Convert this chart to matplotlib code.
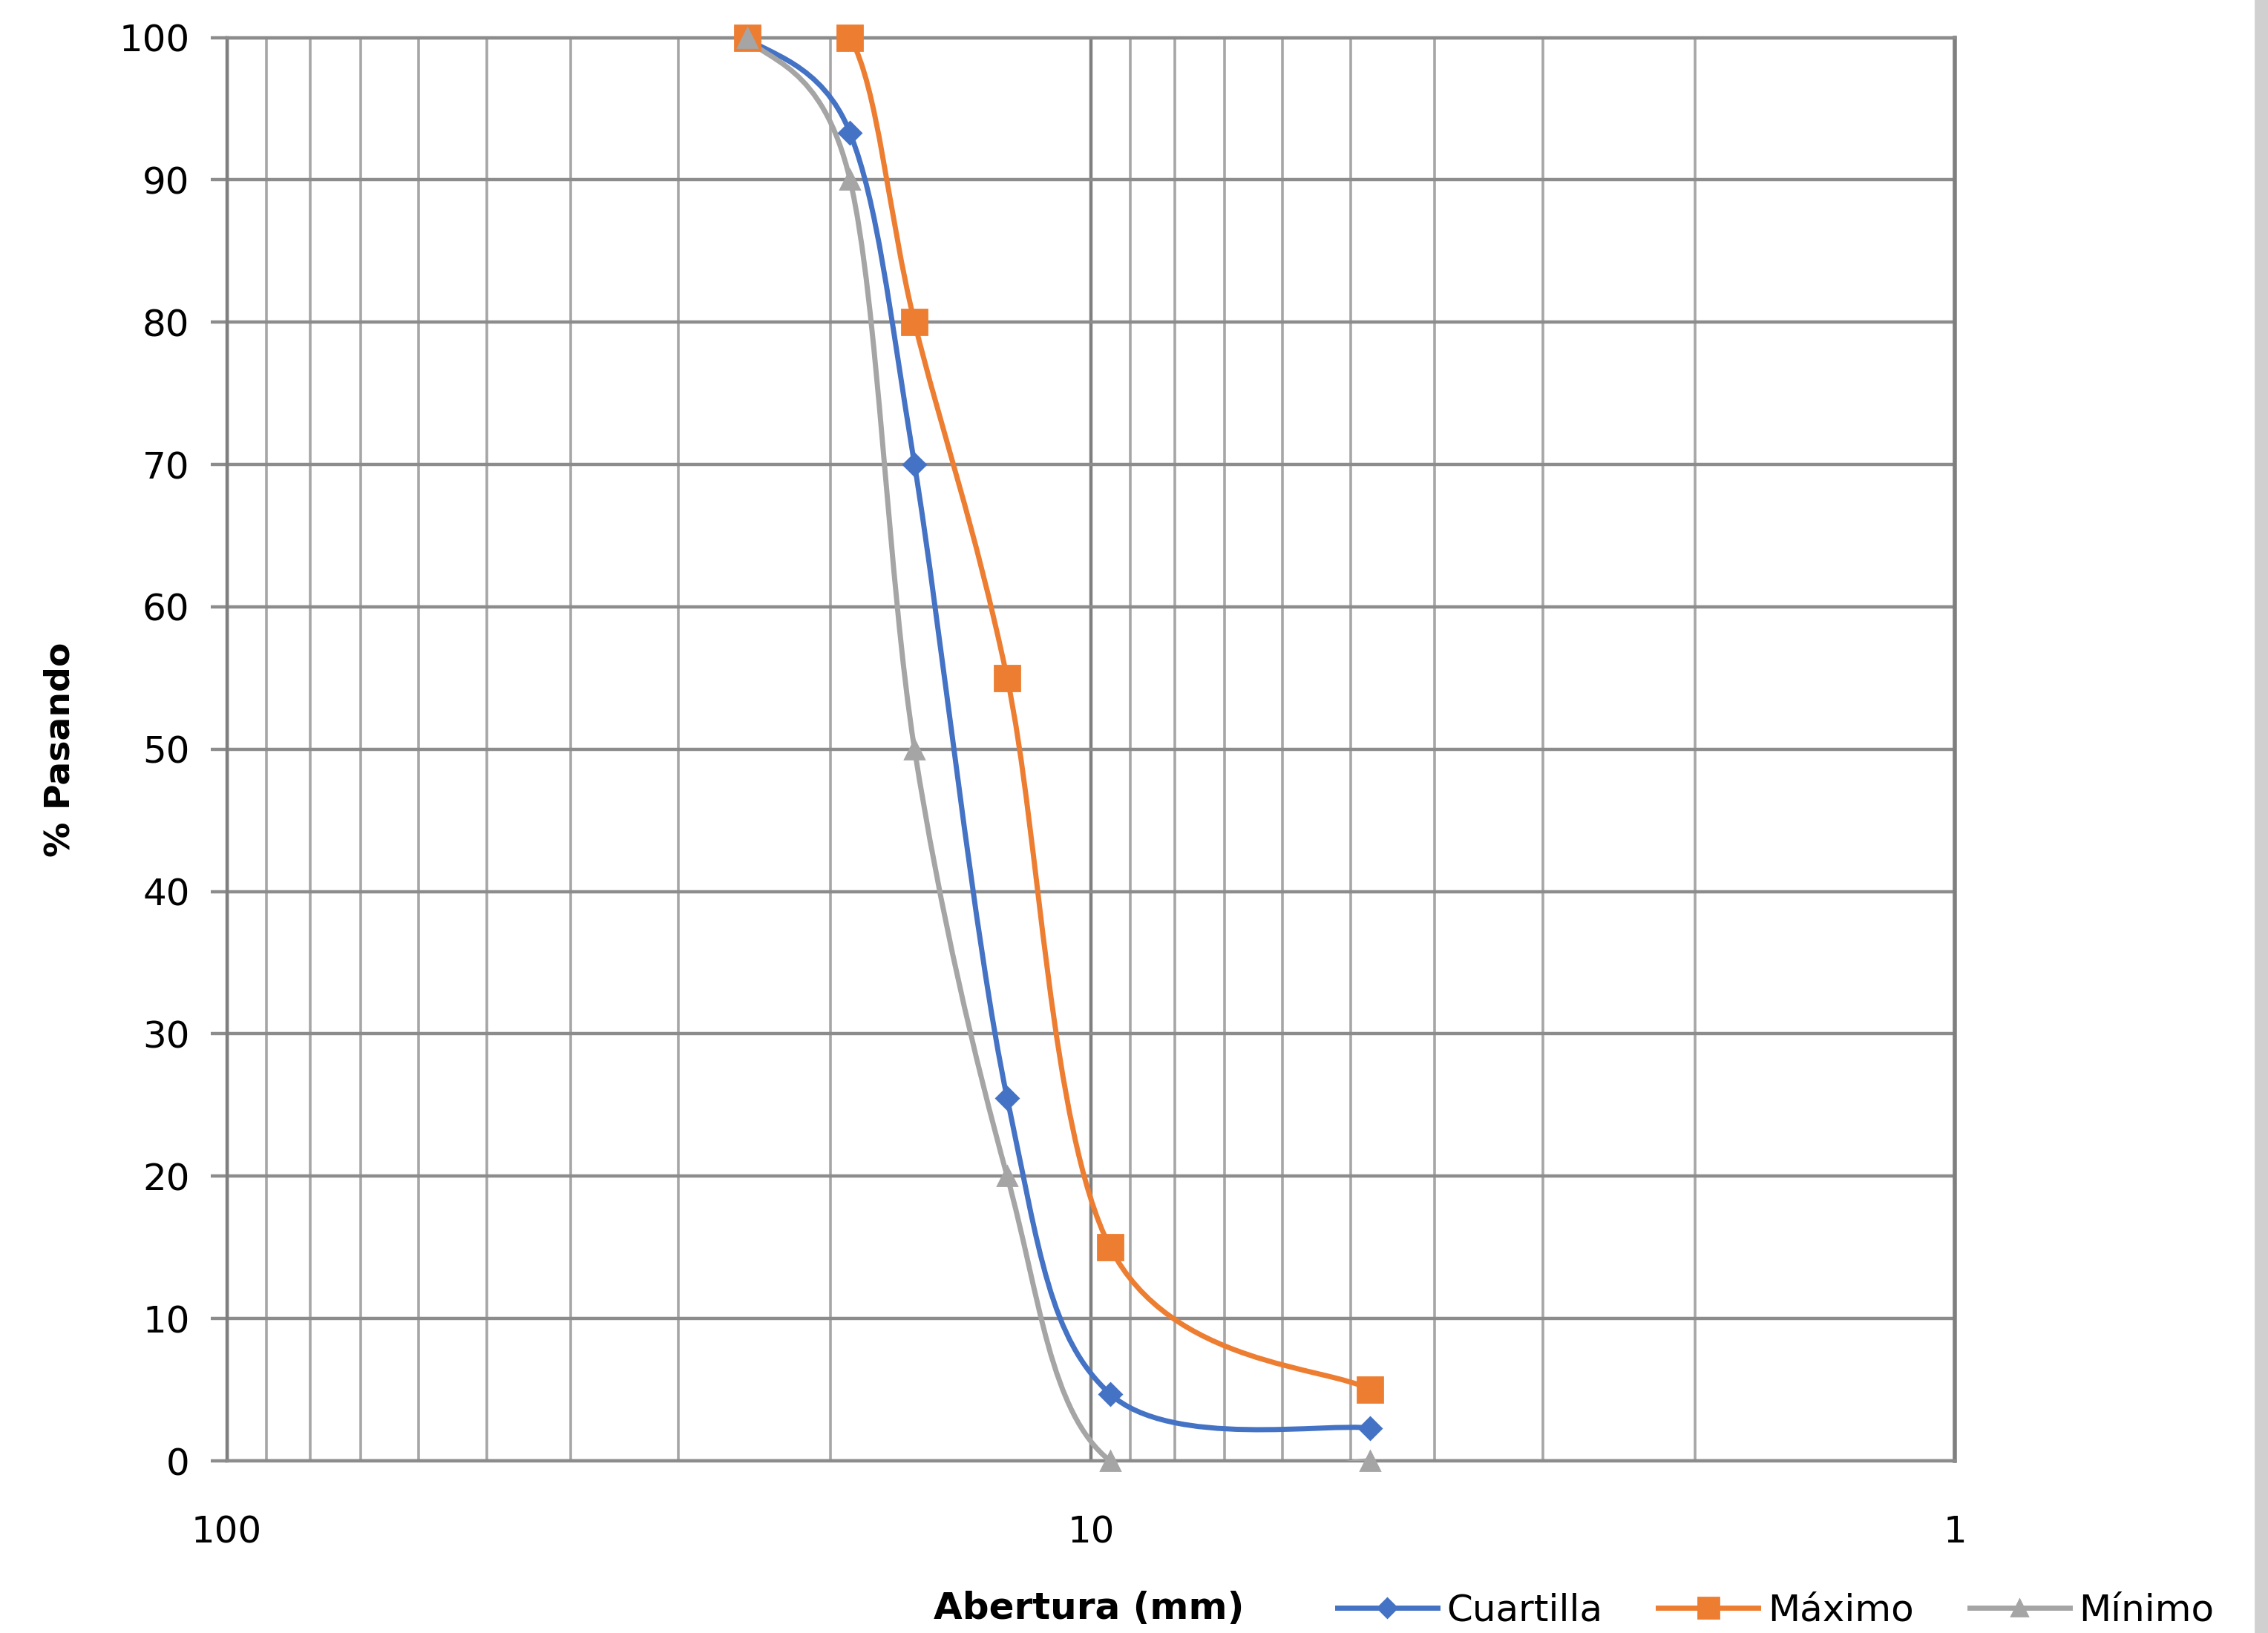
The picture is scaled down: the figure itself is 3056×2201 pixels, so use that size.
import numpy as np
import matplotlib.pyplot as plt
from matplotlib.path import Path
from matplotlib.patches import PathPatch, Rectangle
from matplotlib.lines import Line2D
from matplotlib.ticker import FixedLocator, LogLocator, NullFormatter

# ====================== DATA ======================
abertura = [25, 19, 16, 12.5, 9.5, 4.75]          # mm
cuartilla = [100, 93.3, 70, 25.5, 4.7, 2.3]
maximo = [100, 100, 80, 55, 15, 5]
minimo = [100, 90, 50, 20, 0, 0]
series_names = ['Cuartilla', 'Máximo', 'Mínimo']
y_ticks = list(range(0, 101, 10))
x_ticks = [100, 10, 1]
# ==================================================

colors = ['#4472C4', '#ED7D31', '#A5A5A5']
markers = ['D', 's', '^']
msizes = [7.5, 12, 9.5]


def smooth_path(xs, ys):
    # excel-like smoothed line: bezier segments through the points (log-x space)
    lx = np.log10(xs)
    pts = np.column_stack([lx, ys])
    n = len(pts)
    verts = [pts[0]]
    codes = [Path.MOVETO]
    for i in range(n - 1):
        p0 = pts[max(i - 1, 0)]
        p1 = pts[i]
        p2 = pts[i + 1]
        p3 = pts[min(i + 2, n - 1)]
        c1 = p1 + (p2 - p0) / 6
        c2 = p2 - (p3 - p1) / 6
        verts += [c1, c2, p2]
        codes += [Path.CURVE4] * 3
    verts = np.array(verts)
    verts[:, 0] = 10 ** verts[:, 0]
    return Path(verts, codes)


fig = plt.figure(figsize=(15.28, 11.005), dpi=200)
ax = fig.add_axes([0.100, 0.1054, 0.762, 0.8716])

ax.set_xscale('log')
ax.set_xlim(100, 1)
ax.set_ylim(0, 100)

ax.xaxis.set_major_locator(FixedLocator(x_ticks))
ax.xaxis.set_major_formatter(plt.FuncFormatter(lambda v, p: f'{v:g}'))
ax.xaxis.set_minor_locator(LogLocator(base=10, subs=np.arange(2, 10)))
ax.xaxis.set_minor_formatter(NullFormatter())
ax.set_yticks(y_ticks)

ax.grid(True, which='major', axis='x', color='#7f7f7f', lw=1.6)
ax.grid(True, which='minor', axis='x', color='#a6a6a6', lw=1.3)
ax.grid(True, which='major', axis='y', color='#8c8c8c', lw=1.6)
ax.set_axisbelow(True)

for side in ['top', 'bottom', 'left']:
    ax.spines[side].set_color('#8c8c8c')
    ax.spines[side].set_linewidth(1.6)
ax.spines['left'].set_color('#7f7f7f')
ax.spines['right'].set_color('#7f7f7f')
ax.spines['right'].set_linewidth(2.0)

ax.tick_params(axis='y', which='major', length=8, width=1.6, color='#8c8c8c',
               labelsize=18, pad=10)
ax.tick_params(axis='x', which='major', length=0, labelsize=18, pad=26)
ax.tick_params(axis='x', which='minor', length=0)

data = [cuartilla, maximo, minimo]
handles = []
for vals, name, c, m, ms in zip(data, series_names, colors, markers, msizes):
    ax.add_patch(PathPatch(smooth_path(abertura, vals), fill=False,
                           edgecolor=c, lw=2.5, zorder=3))
    ax.plot(abertura, vals, linestyle='none', marker=m, ms=ms, color=c,
            zorder=4, clip_on=False)
    handles.append(Line2D([], [], color=c, lw=2.5, marker=m, ms=ms * 0.85,
                          label=name))

ax.set_xlabel('Abertura (mm)', fontsize=18, fontweight='bold')
ax.set_ylabel('% Pasando', fontsize=17, fontweight='bold')
ax.xaxis.set_label_coords(0.499, -0.091)
ax.yaxis.set_label_coords(-0.087, 0.5)

fig.legend(handles=handles, loc='center left', bbox_to_anchor=(0.583, 0.014),
           ncol=3, frameon=False, fontsize=18, handlelength=2.7,
           handletextpad=0.25, columnspacing=1.5, borderaxespad=0)

# light gray strip on the right edge of the screenshot
fig.patches.append(Rectangle((0.9945, 0), 0.0055, 1, transform=fig.transFigure,
                             color='#d0d0d0', zorder=0))

plt.savefig('out.png', dpi=200)
